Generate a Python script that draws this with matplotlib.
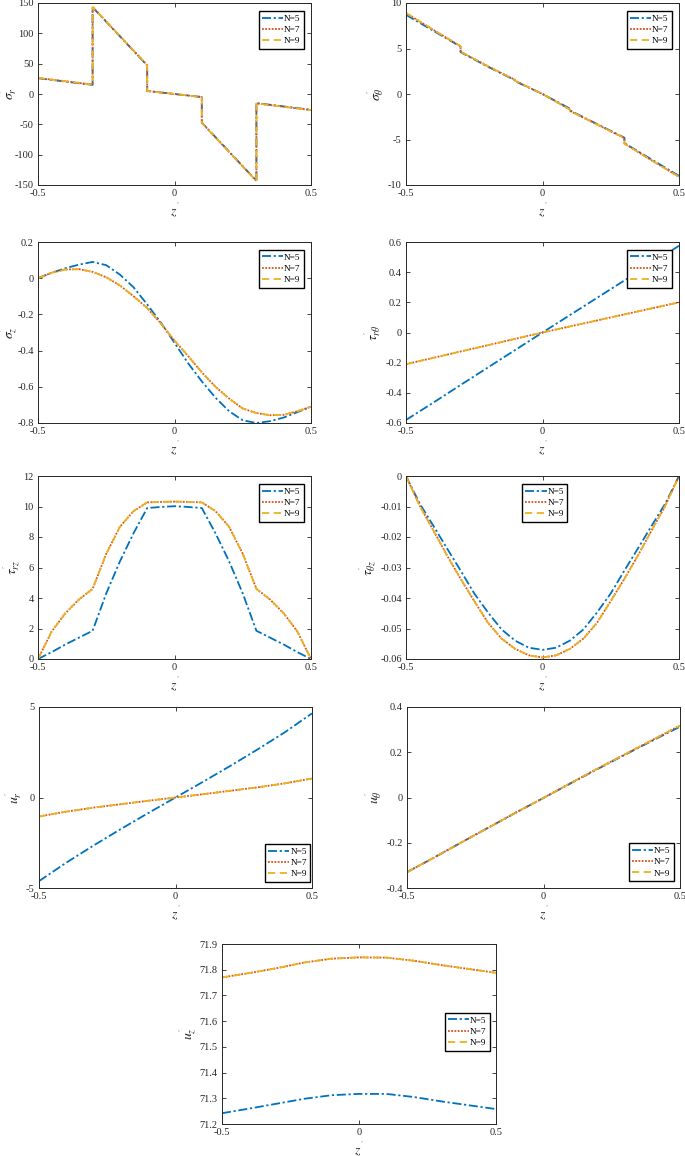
import matplotlib
matplotlib.use("Agg")
import matplotlib.pyplot as plt

plt.rcParams['font.family'] = ['Liberation Serif', 'DejaVu Serif']
plt.rcParams['mathtext.fontset'] = 'stix'

# ---------------- data ----------------
labels = ['N=5', 'N=7', 'N=9']

# sigma_r (layer discontinuities at +-0.1, +-0.3)
z_sr = [-0.5, -0.4, -0.3, -0.3, -0.2, -0.1, -0.1, 0.0, 0.1, 0.1, 0.2, 0.3, 0.3, 0.4, 0.5]
sr_N5 = [26, 20.5, 15, 143, 95, 47, 5, 0, -5, -47, -95, -143, -15, -20.5, -26]
sr_N7 = [26.5, 21, 15.5, 143.5, 95.5, 47.5, 5, 0, -5, -47.5, -95.5, -143.5, -15.5, -21, -26.5]
sr_N9 = [26.5, 21, 15.5, 143.5, 95.5, 47.5, 5, 0, -5, -47.5, -95.5, -143.5, -15.5, -21, -26.5]

# sigma_theta
z_st = [-0.5, -0.4, -0.3, -0.3, -0.2, -0.1, -0.1, 0.0, 0.1, 0.1, 0.2, 0.3, 0.3, 0.4, 0.5]
st_N5 = [8.7, 6.95, 5.2, 4.6, 3.0, 1.5, 1.4, 0.0, -1.6, -1.8, -3.3, -4.8, -5.4, -7.2, -9.0]
st_N7 = [8.9, 7.05, 5.25, 4.65, 3.05, 1.55, 1.45, 0.0, -1.7, -1.85, -3.35, -4.85, -5.45, -7.3, -9.1]
st_N9 = [8.9, 7.05, 5.25, 4.65, 3.05, 1.55, 1.45, 0.0, -1.7, -1.85, -3.35, -4.85, -5.45, -7.3, -9.1]

# common grid for smooth quantities
z_g = [-0.5, -0.45, -0.4, -0.35, -0.3, -0.25, -0.2, -0.15, -0.1, -0.05, 0.0,
       0.05, 0.1, 0.15, 0.2, 0.25, 0.3, 0.35, 0.4, 0.45, 0.5]

# sigma_z
sz_N5 = [0.0, 0.03, 0.055, 0.075, 0.09, 0.072, 0.02, -0.05, -0.145, -0.245, -0.357,
         -0.47, -0.57, -0.66, -0.735, -0.785, -0.8, -0.79, -0.77, -0.74, -0.71]
sz_N7 = [0.0, 0.03, 0.048, 0.05, 0.035, 0.005, -0.04, -0.1, -0.165, -0.25, -0.345,
         -0.43, -0.52, -0.6, -0.665, -0.72, -0.745, -0.757, -0.755, -0.735, -0.71]
sz_N9 = [0.0, 0.03, 0.048, 0.05, 0.035, 0.005, -0.04, -0.1, -0.165, -0.25, -0.345,
         -0.43, -0.52, -0.6, -0.665, -0.72, -0.745, -0.757, -0.755, -0.735, -0.71]

# tau_r_theta
z_10 = [-0.5, -0.4, -0.3, -0.2, -0.1, 0.0, 0.1, 0.2, 0.3, 0.4, 0.5]
trt_N5 = [-0.58, -0.465, -0.348, -0.232, -0.116, 0.0, 0.115, 0.23, 0.345, 0.46, 0.575]
trt_N7 = [-0.21, -0.168, -0.126, -0.084, -0.042, 0.0, 0.04, 0.08, 0.12, 0.16, 0.2]
trt_N9 = [-0.21, -0.168, -0.126, -0.084, -0.042, 0.0, 0.04, 0.08, 0.12, 0.16, 0.2]

# tau_rz
trz_N5 = [0.0, 0.45, 0.95, 1.4, 1.85, 4.3, 6.4, 8.25, 9.9, 9.97, 10.02,
          9.97, 9.9, 8.25, 6.4, 4.3, 1.85, 1.4, 0.95, 0.45, 0.0]
trz_N7 = [0.0, 1.8, 3.0, 3.9, 4.6, 6.9, 8.67, 9.7, 10.27, 10.3, 10.32,
          10.3, 10.27, 9.7, 8.67, 6.9, 4.6, 3.9, 3.0, 1.8, 0.0]
trz_N9 = [0.0, 1.8, 3.0, 3.9, 4.6, 6.9, 8.67, 9.7, 10.27, 10.3, 10.32,
          10.3, 10.27, 9.7, 8.67, 6.9, 4.6, 3.9, 3.0, 1.8, 0.0]

# tau_theta_z
ttz_N5 = [0.0, -0.009, -0.0163, -0.0237, -0.031, -0.0385, -0.0447, -0.0503, -0.054, -0.0563, -0.057,
          -0.0563, -0.054, -0.0503, -0.0447, -0.0385, -0.031, -0.0237, -0.0163, -0.009, 0.0]
ttz_N7 = [0.0, -0.0097, -0.0178, -0.026, -0.0337, -0.041, -0.0481, -0.0533, -0.0567, -0.0588, -0.0595,
          -0.0588, -0.0567, -0.0533, -0.0481, -0.041, -0.0337, -0.026, -0.0178, -0.0097, 0.0]
ttz_N9 = [0.0, -0.0097, -0.0178, -0.026, -0.0337, -0.041, -0.0481, -0.0533, -0.0567, -0.0588, -0.0595,
          -0.0588, -0.0567, -0.0533, -0.0481, -0.041, -0.0337, -0.026, -0.0178, -0.0097, 0.0]

# u_r
ur_N5 = [-4.62, -3.6, -2.65, -1.74, -0.86, 0.0, 0.86, 1.74, 2.65, 3.6, 4.65]
ur_N7 = [-1.05, -0.78, -0.56, -0.37, -0.18, 0.0, 0.18, 0.37, 0.56, 0.78, 1.05]
ur_N9 = [-1.05, -0.78, -0.56, -0.37, -0.18, 0.0, 0.18, 0.37, 0.56, 0.78, 1.05]

# u_theta
ut_N5 = [-0.33, -0.265, -0.198, -0.132, -0.066, -0.002, 0.063, 0.127, 0.19, 0.252, 0.313]
ut_N7 = [-0.33, -0.265, -0.198, -0.132, -0.066, -0.002, 0.064, 0.129, 0.192, 0.255, 0.318]
ut_N9 = [-0.33, -0.265, -0.198, -0.132, -0.066, -0.002, 0.064, 0.129, 0.192, 0.255, 0.318]

# u_z
uz_N5 = [71.242, 71.26, 71.279, 71.298, 71.312, 71.317, 71.317, 71.305, 71.288, 71.273, 71.258]
uz_N7 = [71.770, 71.787, 71.806, 71.828, 71.843, 71.848, 71.847, 71.835, 71.818, 71.803, 71.788]
uz_N9 = [71.770, 71.787, 71.806, 71.828, 71.843, 71.848, 71.847, 71.835, 71.818, 71.803, 71.788]

xticks = [-0.5, 0, 0.5]
xtick_labels = ['-0.5', '0', '0.5']

# ---------------- styling ----------------
colors = ['#0072BD', '#D95319', '#EDB120']
dashes = [(5, 1.5, 1.2, 1.5), (1, 0.8), (4, 2.5)]
W, H = 685, 1156
fig = plt.figure(figsize=(W / 100, H / 100), dpi=100)

def make_ax(x0, y0, x1, y1):
    return fig.add_axes([x0 / W, 1 - y1 / H, (x1 - x0) / W, (y1 - y0) / H])

def panel(ax, z, series, ylim, yticks, yticklabels, ylabel, leg_kw, ylab_x=None):
    for s, c, d, lab in zip(series, colors, dashes, labels):
        ax.plot(z, s, color=c, linestyle=(0, d), linewidth=1.3, label=lab)
    ax.set_xlim(-0.5, 0.5)
    ax.set_ylim(*ylim)
    ax.set_xticks(xticks)
    ax.set_xticklabels(xtick_labels)
    ax.set_yticks(yticks)
    ax.set_yticklabels(yticklabels)
    ax.tick_params(direction='in', top=True, right=True, length=3, width=0.6,
                   labelsize=7.5, colors='#262626', pad=3)
    for sp in ax.spines.values():
        sp.set_color('#262626')
        sp.set_linewidth(0.7)
    ax.set_xlabel(r"$z^{'}$", fontsize=10, color='#262626', labelpad=2)
    ax.set_ylabel(ylabel, fontsize=10, color='#262626', labelpad=1.5)
    if ylab_x is not None:
        ax.yaxis.set_label_coords(ylab_x, 0.5)
    leg = ax.legend(fontsize=6.7, frameon=True, fancybox=False, framealpha=1,
                    edgecolor='#000000', handlelength=2.3, handletextpad=0.1,
                    borderpad=0.35, labelspacing=0.3, borderaxespad=0, **leg_kw)
    leg.get_frame().set_linewidth(1.0)

ur_kw = dict(loc='upper right', bbox_to_anchor=(1 - 7 / 273, 1 - 8 / 182))

L = (38, 311)
R = (406, 679)

ax = make_ax(L[0], 3, L[1], 185)
panel(ax, z_sr, [sr_N5, sr_N7, sr_N9], (-150, 150), list(range(-150, 151, 50)),
      [str(v) for v in range(-150, 151, 50)], r"$\sigma^{'}_{r}$", ur_kw, ylab_x=-0.07)

ax = make_ax(R[0], 3, R[1], 185)
panel(ax, z_st, [st_N5, st_N7, st_N9], (-10, 10), [-10, -5, 0, 5, 10],
      ['-10', '-5', '0', '5', '10'], r"$\sigma^{'}_{\theta}$", ur_kw)

ax = make_ax(L[0], 242, L[1], 423)
panel(ax, z_g, [sz_N5, sz_N7, sz_N9], (-0.8, 0.2), [-0.8, -0.6, -0.4, -0.2, 0, 0.2],
      ['-0.8', '-0.6', '-0.4', '-0.2', '0', '0.2'], r"$\sigma^{'}_{z}$", ur_kw, ylab_x=-0.07)

ax = make_ax(R[0], 242, R[1], 423)
panel(ax, z_10, [trt_N5, trt_N7, trt_N9], (-0.6, 0.6), [-0.6, -0.4, -0.2, 0, 0.2, 0.4, 0.6],
      ['-0.6', '-0.4', '-0.2', '0', '0.2', '0.4', '0.6'], r"$\tau^{'}_{r\theta}$", ur_kw)

ax = make_ax(L[0], 476, L[1], 659)
panel(ax, z_g, [trz_N5, trz_N7, trz_N9], (0, 12), [0, 2, 4, 6, 8, 10, 12],
      ['0', '2', '4', '6', '8', '10', '12'], r"$\tau^{'}_{rz}$", ur_kw)

ax = make_ax(R[0], 476, R[1], 659)
panel(ax, z_g, [ttz_N5, ttz_N7, ttz_N9], (-0.06, 0), [-0.06, -0.05, -0.04, -0.03, -0.02, -0.01, 0],
      ['-0.06', '-0.05', '-0.04', '-0.03', '-0.02', '-0.01', '0'], r"$\tau^{'}_{\theta z}$",
      dict(loc='upper left', bbox_to_anchor=(0.425, 0.956)))

ax = make_ax(L[0] + 1, 707, L[1] + 1, 888)
panel(ax, z_10, [ur_N5, ur_N7, ur_N9], (-5, 5), [-5, 0, 5],
      ['-5', '0', '5'], r"$u^{'}_{r}$",
      dict(loc='lower right', bbox_to_anchor=(0.993, 0.035)))

ax = make_ax(R[0] + 1, 707, R[1] + 1, 888)
panel(ax, z_10, [ut_N5, ut_N7, ut_N9], (-0.4, 0.4), [-0.4, -0.2, 0, 0.2, 0.4],
      ['-0.4', '-0.2', '0', '0.2', '0.4'], r"$u^{'}_{\theta}$",
      dict(loc='lower right', bbox_to_anchor=(0.978, 0.039)))

ax = make_ax(222, 944, 496, 1124)
uz_ticks = [71.2, 71.3, 71.4, 71.5, 71.6, 71.7, 71.8, 71.9]
panel(ax, z_10, [uz_N5, uz_N7, uz_N9], (71.2, 71.9), uz_ticks,
      ['71.2', '71.3', '71.4', '71.5', '71.6', '71.7', '71.8', '71.9'], r"$u^{'}_{z}$",
      dict(loc='upper right', bbox_to_anchor=(0.978, 0.617)))

fig.savefig('out.png', dpi=100, facecolor='white')
